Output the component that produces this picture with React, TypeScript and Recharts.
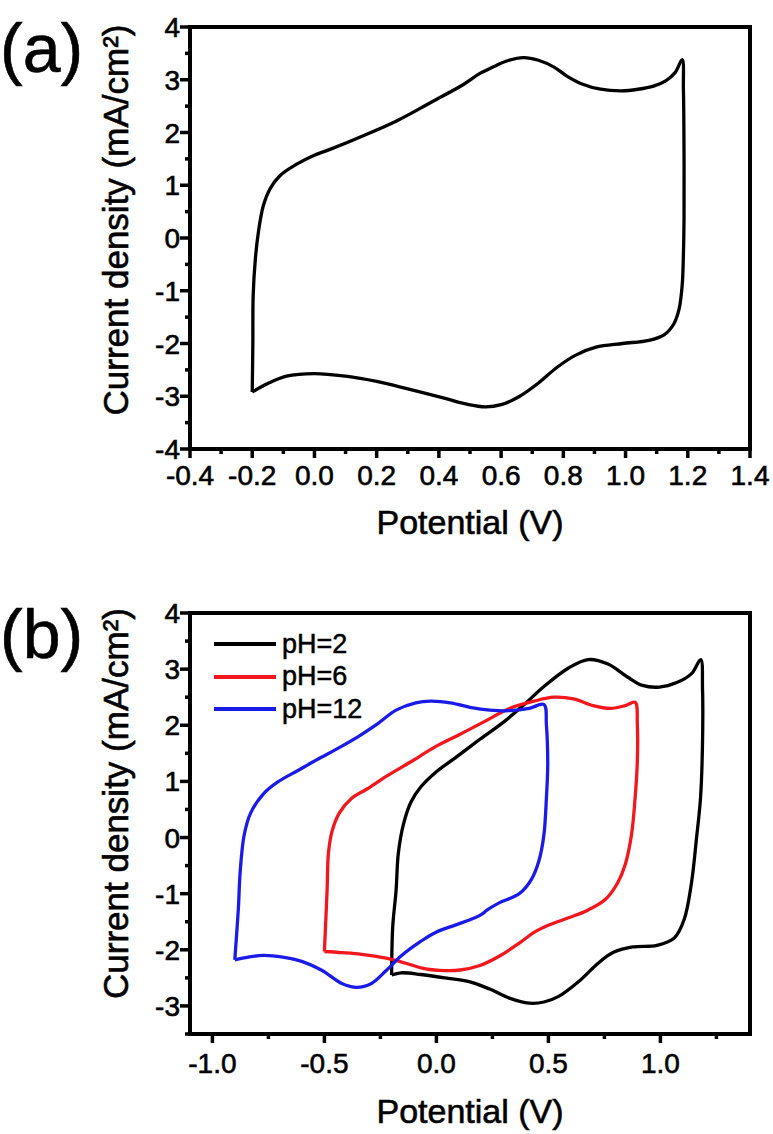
import React from 'react';
import { LineChart, Line, XAxis, YAxis, ReferenceLine, Legend } from 'recharts';

const FONT = "'Liberation Sans', Arial, Helvetica, sans-serif";

// ---------- Panel (a): single CV loop ----------
const aPotential = [-0.2, -0.198, -0.197, -0.19, -0.18, -0.164, -0.143, -0.111, -0.057, -0.004, 0.05, 0.157, 0.264, 0.371, 0.479, 0.532, 0.577, 0.62, 0.672, 0.72, 0.77, 0.814, 0.86, 0.92, 0.987, 1.04, 1.09, 1.129, 1.16, 1.182, 1.186, 1.188, 1.188, 1.186, 1.182, 1.172, 1.155, 1.125, 1.075, 0.99, 0.905, 0.84, 0.78, 0.72, 0.66, 0.6, 0.55, 0.49, 0.42, 0.3, 0.2, 0.1, 0.0, -0.09, -0.15, -0.2];
const aCurrent = [-2.92, -2.0, -1.1, -0.4, 0.12, 0.62, 0.93, 1.18, 1.4, 1.56, 1.68, 1.94, 2.22, 2.56, 2.91, 3.12, 3.25, 3.36, 3.42, 3.37, 3.24, 3.06, 2.92, 2.82, 2.79, 2.82, 2.88, 2.98, 3.14, 3.38, 2.8, 1.5, 0.4, -0.3, -0.9, -1.35, -1.63, -1.83, -1.94, -2.0, -2.07, -2.22, -2.45, -2.75, -3.0, -3.16, -3.2, -3.15, -3.04, -2.86, -2.72, -2.62, -2.57, -2.62, -2.76, -2.92];

// ---------- Panel (b): three pH values ----------
const ph2Potential = [-0.2, -0.195, -0.18, -0.17, -0.147, -0.114, -0.07, -0.004, 0.084, 0.194, 0.304, 0.392, 0.48, 0.59, 0.678, 0.766, 0.853, 0.92, 0.996, 1.073, 1.139, 1.18, 1.188, 1.188, 1.179, 1.161, 1.139, 1.106, 1.062, 0.985, 0.876, 0.788, 0.722, 0.634, 0.546, 0.48, 0.414, 0.326, 0.238, 0.15, 0.04, -0.07, -0.158, -0.2];
const ph2Current = [-2.45, -1.59, -0.94, -0.28, 0.24, 0.63, 0.9, 1.16, 1.42, 1.75, 2.07, 2.37, 2.69, 3.02, 3.17, 3.09, 2.86, 2.71, 2.68, 2.76, 2.92, 3.17, 2.66, 1.68, 0.7, -0.02, -0.8, -1.46, -1.79, -1.92, -1.95, -2.05, -2.24, -2.57, -2.83, -2.93, -2.95, -2.86, -2.7, -2.57, -2.5, -2.44, -2.41, -2.45];

const ph6Potential = [-0.5, -0.488, -0.482, -0.466, -0.433, -0.378, -0.312, -0.224, -0.114, -0.004, 0.106, 0.216, 0.326, 0.436, 0.524, 0.612, 0.7, 0.777, 0.843, 0.887, 0.897, 0.897, 0.887, 0.871, 0.843, 0.81, 0.755, 0.678, 0.59, 0.502, 0.436, 0.37, 0.282, 0.194, 0.106, 0.04, -0.048, -0.136, -0.224, -0.334, -0.422, -0.5];
const ph6Current = [-2.03, -0.94, -0.28, 0.11, 0.44, 0.7, 0.86, 1.09, 1.35, 1.62, 1.84, 2.07, 2.3, 2.43, 2.5, 2.47, 2.35, 2.3, 2.35, 2.41, 2.01, 1.35, 0.7, 0.05, -0.48, -0.8, -1.1, -1.29, -1.43, -1.56, -1.69, -1.88, -2.11, -2.28, -2.36, -2.37, -2.34, -2.24, -2.15, -2.08, -2.05, -2.03];

const ph12Potential = [-0.9, -0.884, -0.876, -0.858, -0.829, -0.774, -0.708, -0.62, -0.532, -0.444, -0.356, -0.268, -0.18, -0.092, -0.026, 0.062, 0.15, 0.238, 0.326, 0.414, 0.48, 0.491, 0.497, 0.491, 0.48, 0.458, 0.425, 0.37, 0.282, 0.227, 0.205, 0.172, 0.084, -0.004, -0.07, -0.158, -0.224, -0.29, -0.356, -0.422, -0.51, -0.598, -0.686, -0.774, -0.84, -0.9];
const ph12Current = [-2.18, -1.26, -0.61, 0.05, 0.44, 0.77, 0.99, 1.19, 1.39, 1.58, 1.78, 2.01, 2.27, 2.4, 2.43, 2.4, 2.32, 2.27, 2.26, 2.3, 2.37, 2.01, 1.29, 0.7, 0.05, -0.41, -0.74, -1.0, -1.16, -1.29, -1.36, -1.43, -1.56, -1.69, -1.85, -2.11, -2.37, -2.6, -2.67, -2.6, -2.37, -2.21, -2.13, -2.1, -2.13, -2.18];

const seriesNamesB = ['pH=2', 'pH=6', 'pH=12'];
const seriesColorsB = ['#000000', '#f2171d', '#1b1be8'];

// ---------- Ticks ----------
const aXMajor = [-0.4, -0.2, 0.0, 0.2, 0.4, 0.6, 0.8, 1.0, 1.2, 1.4];
const aXMinor = [-0.3, -0.1, 0.1, 0.3, 0.5, 0.7, 0.9, 1.1, 1.3];
const aYMajor = [-4, -3, -2, -1, 0, 1, 2, 3, 4];
const aYMinor = [-3.5, -2.5, -1.5, -0.5, 0.5, 1.5, 2.5, 3.5];
const bXMajor = [-1.0, -0.5, 0.0, 0.5, 1.0];
const bXMinor = [-0.75, -0.25, 0.25, 0.75, 1.25];
const bYMajor = [-3, -2, -1, 0, 1, 2, 3, 4];
const bYMinor = [-3.5, -2.5, -1.5, -0.5, 0.5, 1.5, 2.5, 3.5];

const xTitle = 'Potential (V)';
const yTitle = 'Current density (mA/cm²)';

const zip = (xs: number[], ys: number[]) => xs.map((x, i) => ({ x, y: ys[i] }));
const allTicks = (a: number[], b: number[]) => [...a, ...b].sort((p, q) => p - q);
const isIn = (arr: number[], v: number) => arr.some((m) => Math.abs(m - v) < 1e-6);

// Centripetal Catmull-Rom curve factory (smooth curve through every point)
class CatmullRom {
  _context: any; _alpha: number; _line: number = NaN; _point = 0;
  _x0 = NaN; _x1 = NaN; _x2 = NaN; _y0 = NaN; _y1 = NaN; _y2 = NaN;
  _l01_a = 0; _l12_a = 0; _l23_a = 0; _l01_2a = 0; _l12_2a = 0; _l23_2a = 0;
  constructor(context: any, alpha: number) { this._context = context; this._alpha = alpha; }
  areaStart() { this._line = 0; }
  areaEnd() { this._line = NaN; }
  lineStart() {
    this._x0 = this._x1 = this._x2 = this._y0 = this._y1 = this._y2 = NaN;
    this._l01_a = this._l12_a = this._l23_a = this._l01_2a = this._l12_2a = this._l23_2a = this._point = 0;
  }
  lineEnd() {
    switch (this._point) {
      case 2: this._context.lineTo(this._x2, this._y2); break;
      case 3: this.point(this._x2, this._y2); break;
    }
    if (this._line || (this._line !== 0 && this._point === 1)) this._context.closePath();
    this._line = 1 - this._line;
  }
  seg(x: number, y: number) {
    let x1 = this._x1, y1 = this._y1, x2 = this._x2, y2 = this._y2;
    const eps = 1e-12;
    if (this._l01_a > eps) {
      const a = 2 * this._l01_2a + 3 * this._l01_a * this._l12_a + this._l12_2a;
      const n = 3 * this._l01_a * (this._l01_a + this._l12_a);
      x1 = (x1 * a - this._x0 * this._l12_2a + this._x2 * this._l01_2a) / n;
      y1 = (y1 * a - this._y0 * this._l12_2a + this._y2 * this._l01_2a) / n;
    }
    if (this._l23_a > eps) {
      const b = 2 * this._l23_2a + 3 * this._l23_a * this._l12_a + this._l12_2a;
      const m = 3 * this._l23_a * (this._l23_a + this._l12_a);
      x2 = (x2 * b + this._x1 * this._l23_2a - x * this._l12_2a) / m;
      y2 = (y2 * b + this._y1 * this._l23_2a - y * this._l12_2a) / m;
    }
    this._context.bezierCurveTo(x1, y1, x2, y2, this._x2, this._y2);
  }
  point(x: number, y: number) {
    x = +x; y = +y;
    if (this._point) {
      const x23 = this._x2 - x, y23 = this._y2 - y;
      this._l23_2a = Math.pow(x23 * x23 + y23 * y23, this._alpha);
      this._l23_a = Math.sqrt(this._l23_2a);
    }
    switch (this._point) {
      case 0:
        this._point = 1;
        if (this._line) this._context.lineTo(x, y); else this._context.moveTo(x, y);
        break;
      case 1: this._point = 2; break;
      case 2: this._point = 3; this.seg(x, y); break;
      default: this.seg(x, y); break;
    }
    this._l01_a = this._l12_a; this._l12_a = this._l23_a;
    this._l01_2a = this._l12_2a; this._l12_2a = this._l23_2a;
    this._x0 = this._x1; this._x1 = this._x2; this._x2 = x;
    this._y0 = this._y1; this._y1 = this._y2; this._y2 = y;
  }
}
const smoothCurve: any = (context: any) => new CatmullRom(context, 0.5);

const TXT = { fontFamily: FONT, fill: '#000', stroke: '#000', strokeWidth: 0.6 };

const XTick = (props: any) => {
  const { x, y, payload, majors, digits, dy } = props;
  const v = payload.value as number;
  const major = isIn(majors, v);
  return (
    <g>
      <line x1={x} x2={x} y1={y} y2={y + (major ? 9 : 5)} stroke="#000" strokeWidth={3.5} />
      {major && (
        <text x={x} y={y + dy} textAnchor="middle" fontSize={28} {...TXT}>
          {v.toFixed(digits)}
        </text>
      )}
    </g>
  );
};

const YTick = (props: any) => {
  const { x, y, payload, majors } = props;
  const v = payload.value as number;
  const major = isIn(majors, v);
  return (
    <g>
      <line x1={x} x2={x - (major ? 10 : 5)} y1={y} y2={y} stroke="#000" strokeWidth={3.5} />
      {major && (
        <text x={x - 10} y={y + 10} textAnchor="end" fontSize={28} {...TXT}>
          {String(v)}
        </text>
      )}
    </g>
  );
};

const XTitle = (props: any) => {
  const { viewBox, text, dy } = props;
  return (
    <text x={viewBox.x + viewBox.width / 2} y={viewBox.y + dy} textAnchor="middle" fontSize={34} {...TXT}>
      {text}
    </text>
  );
};

const YTitle = (props: any) => {
  const { viewBox, text, cx, dy } = props;
  const cy = viewBox.y + viewBox.height / 2 + dy;
  return (
    <text x={cx} y={cy} transform={`rotate(-90, ${cx}, ${cy})`} textAnchor="middle" dominantBaseline="central" fontSize={35} {...TXT}>
      {text}
    </text>
  );
};

const axisLineStyle = { stroke: '#000', strokeWidth: 4, strokeLinecap: 'square' as const };

const PanelA = () => (
  <LineChart width={773} height={560} margin={{ top: 27, right: 23, left: 0, bottom: 0 }}>
    <XAxis
      type="number"
      dataKey="x"
      domain={[-0.4, 1.4]}
      ticks={allTicks(aXMajor, aXMinor)}
      interval={0}
      tickSize={0}
      tickMargin={0}
      tickLine={false}
      axisLine={axisLineStyle}
      height={111}
      tick={<XTick majors={aXMajor} digits={1} dy={36} />}
      label={<XTitle text={xTitle} dy={85} />}
    />
    <YAxis
      type="number"
      dataKey="y"
      domain={[-4, 4]}
      ticks={allTicks(aYMajor, aYMinor)}
      interval={0}
      tickSize={0}
      tickMargin={0}
      tickLine={false}
      axisLine={axisLineStyle}
      width={190}
      tick={<YTick majors={aYMajor} />}
      label={<YTitle text={yTitle} cx={115} dy={-18} />}
    />
    <ReferenceLine y={4} stroke="#000" strokeWidth={4} strokeLinecap="square" />
    <ReferenceLine x={1.4} stroke="#000" strokeWidth={4} strokeLinecap="square" />
    <Line
      data={zip(aPotential, aCurrent)}
      dataKey="y"
      type={smoothCurve}
      stroke="#000"
      strokeWidth={3.3}
      strokeLinejoin="round"
      dot={false}
      activeDot={false}
      isAnimationActive={false}
    />
  </LineChart>
);

const seriesB = [zip(ph2Potential, ph2Current), zip(ph6Potential, ph6Current), zip(ph12Potential, ph12Current)];

const LegendB = () => (
  <div style={{ fontFamily: FONT }}>
    {seriesNamesB.map((n, i) => (
      <div key={n} style={{ display: 'flex', alignItems: 'center', height: 32.5 }}>
        <svg width={62} height={8} style={{ display: 'block' }}>
          <line x1={0} x2={62} y1={4} y2={4} stroke={seriesColorsB[i]} strokeWidth={3.8} />
        </svg>
        <span style={{ marginLeft: 6, fontSize: 27, color: '#000', lineHeight: 1, WebkitTextStroke: '0.5px #000' }}>{n}</span>
      </div>
    ))}
  </div>
);

const PanelB = () => (
  <LineChart width={773} height={574} margin={{ top: 53, right: 23, left: 0, bottom: 0 }}>
    <XAxis
      type="number"
      dataKey="x"
      domain={[-1.1, 1.4]}
      ticks={allTicks(bXMajor, bXMinor)}
      interval={0}
      tickSize={0}
      tickMargin={0}
      tickLine={false}
      axisLine={axisLineStyle}
      height={100}
      tick={<XTick majors={bXMajor} digits={1} dy={39} />}
      label={<XTitle text={xTitle} dy={89} />}
    />
    <YAxis
      type="number"
      dataKey="y"
      domain={[-3.5, 4]}
      ticks={allTicks(bYMajor, bYMinor)}
      interval={0}
      tickSize={0}
      tickMargin={0}
      tickLine={false}
      axisLine={axisLineStyle}
      width={190}
      tick={<YTick majors={bYMajor} />}
      label={<YTitle text={yTitle} cx={115} dy={-20} />}
    />
    <ReferenceLine y={4} stroke="#000" strokeWidth={4} strokeLinecap="square" />
    <ReferenceLine x={1.4} stroke="#000" strokeWidth={4} strokeLinecap="square" />
    {seriesB.map((d, i) => (
      <Line
        key={seriesNamesB[i]}
        name={seriesNamesB[i]}
        data={d}
        dataKey="y"
        type={smoothCurve}
        stroke={seriesColorsB[i]}
        strokeWidth={3.3}
        strokeLinejoin="round"
        dot={false}
        activeDot={false}
        isAnimationActive={false}
      />
    ))}
    <Legend
      layout="vertical"
      align="center"
      verticalAlign="middle"
      wrapperStyle={{ left: 214, top: 68, width: 'auto' }}
      content={() => <LegendB />}
    />
  </LineChart>
);

const panelLabel: React.CSSProperties = {
  position: 'absolute',
  left: 0,
  fontFamily: FONT,
  fontSize: 68,
  lineHeight: 1,
  color: '#000',
  WebkitTextStroke: '0.6px #000',
};

export default function App() {
  return (
    <div style={{ position: 'absolute', left: 0, top: 0, width: 773, height: 1134, background: '#fff', overflow: 'hidden' }}>
      <div style={{ position: 'absolute', left: 0, top: 0 }}>
        <PanelA />
      </div>
      <div style={{ position: 'absolute', left: 0, top: 560 }}>
        <PanelB />
      </div>
      <div style={{ ...panelLabel, top: 14 }}>(a)</div>
      <div style={{ ...panelLabel, top: 600 }}>(b)</div>
    </div>
  );
}
